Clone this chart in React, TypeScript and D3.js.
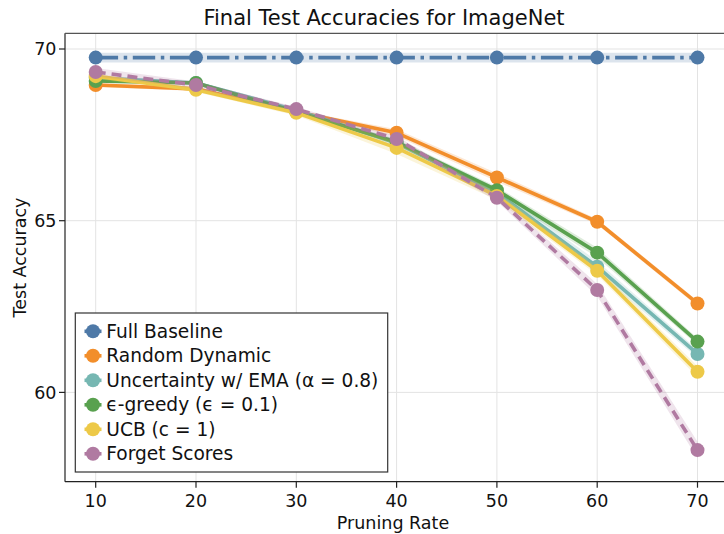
import React from "react";
import * as d3 from "d3";

const pruningRates = [10, 20, 30, 40, 50, 60, 70];
const xTicks = [10, 20, 30, 40, 50, 60, 70];
const yTicks = [60, 65, 70];

const seriesNames = [
  "Full Baseline",
  "Random Dynamic",
  "Uncertainty w/ EMA (α = 0.8)",
  "ϵ-greedy (ϵ = 0.1)",
  "UCB (c = 1)",
  "Forget Scores",
];
const seriesColors = ["#4e79a7", "#f28e2b", "#76b7b2", "#59a14f", "#edc948", "#b07aa1"];

const baselineAcc = [69.75, 69.75, 69.75, 69.75, 69.75, 69.75, 69.75];
const baselineStd = [0.14, 0.14, 0.14, 0.14, 0.14, 0.14, 0.14];
const randomAcc = [68.95, 68.84, 68.17, 67.56, 66.26, 64.97, 62.59];
const randomStd = [0.06, 0.06, 0.05, 0.1, 0.12, 0.08, 0.08];
const uncertaintyAcc = [69.16, 69.01, 68.22, 67.26, 65.81, 63.66, 61.12];
const uncertaintyStd = [0.06, 0.05, 0.06, 0.1, 0.14, 0.16, 0.12];
const greedyAcc = [69.07, 69.01, 68.17, 67.29, 65.89, 64.07, 61.48];
const greedyStd = [0.05, 0.05, 0.06, 0.08, 0.1, 0.14, 0.1];
const ucbAcc = [69.21, 68.81, 68.14, 67.12, 65.72, 63.54, 60.6];
const ucbStd = [0.08, 0.06, 0.08, 0.18, 0.12, 0.12, 0.16];
const forgetAcc = [69.33, 68.95, 68.25, 67.38, 65.67, 62.98, 58.32];
const forgetStd = [0.12, 0.1, 0.06, 0.08, 0.1, 0.18, 0.24];

const seriesValues = [baselineAcc, randomAcc, uncertaintyAcc, greedyAcc, ucbAcc, forgetAcc];
const seriesStds = [baselineStd, randomStd, uncertaintyStd, greedyStd, ucbStd, forgetStd];
const seriesDash = ["22.4,5.6,3.5,5.6", null, null, null, null, "10,6"];

const FONT = "'DejaVu Sans', sans-serif";

export default function App() {
  const W = 724;
  const H = 534;
  const left = 65;
  const top = 33.3;
  const bottom = 481.7;
  const right = 740;

  const x = d3.scaleLinear().domain([10, 70]).range([95.7, 697.5]);
  const y = d3.scaleLinear().domain([60, 70]).range([392.4, 49]);

  const line = d3
    .line<number>()
    .x((_, i) => x(pruningRates[i]))
    .y((d) => y(d));

  const area = (vals: number[], stds: number[]) =>
    d3
      .area<number>()
      .x((_, i) => x(pruningRates[i]))
      .y0((d, i) => y(d - stds[i]))
      .y1((d, i) => y(d + stds[i]))(vals) || "";

  const lw = 3.6;
  const r = 7;

  const legendX = 75.3;
  const legendY = 313;
  const legendW = 312.4;
  const legendH = 159;
  const rowStart = 331.3;
  const rowStep = 24.5;

  return (
    <svg
      width={W}
      height={H}
      style={{ position: "absolute", left: 0, top: 0, background: "#fff" }}
      fontFamily={FONT}
    >
      <defs>
        <clipPath id="plotClip">
          <rect x={left} y={top} width={right - left} height={bottom - top} />
        </clipPath>
      </defs>
      <rect x={0} y={0} width={W} height={H} fill="#fff" />

      {/* grid */}
      <g stroke="#e3e3e3" strokeWidth={1}>
        {xTicks.map((t) => (
          <line key={"gx" + t} x1={x(t)} x2={x(t)} y1={top} y2={bottom} />
        ))}
        {yTicks.map((t) => (
          <line key={"gy" + t} x1={left} x2={right} y1={y(t)} y2={y(t)} />
        ))}
      </g>

      {/* series */}
      <g clipPath="url(#plotClip)">
        {seriesValues.map((vals, si) => (
          <g key={"s" + si}>
            <path d={area(vals, seriesStds[si])} fill={seriesColors[si]} fillOpacity={0.2} stroke="none" />
            <path
              d={line(vals) || ""}
              fill="none"
              stroke={seriesColors[si]}
              strokeWidth={lw}
              strokeDasharray={seriesDash[si] || undefined}
              strokeLinejoin="round"
            />
            {vals.map((v, i) => (
              <circle key={i} cx={x(pruningRates[i])} cy={y(v)} r={r} fill={seriesColors[si]} />
            ))}
          </g>
        ))}
      </g>

      {/* spines */}
      <g stroke="#222" strokeWidth={1.2}>
        <line x1={left} x2={left} y1={top} y2={bottom} />
        <line x1={left} x2={W} y1={bottom} y2={bottom} />
        <line x1={left} x2={W} y1={top} y2={top} stroke="#555" />
      </g>

      {/* ticks */}
      <g stroke="#222" strokeWidth={1.2}>
        {yTicks.map((t) => (
          <line key={"ty" + t} x1={left - 6} x2={left} y1={y(t)} y2={y(t)} />
        ))}
        {xTicks.map((t) => (
          <line key={"tx" + t} x1={x(t)} x2={x(t)} y1={bottom} y2={bottom + 6} />
        ))}
      </g>
      <g fontSize={17.5} fill="#111">
        {yTicks.map((t) => (
          <text key={"ly" + t} x={56.5} y={y(t)} dy="0.36em" textAnchor="end">
            {t}
          </text>
        ))}
        {xTicks.map((t) => (
          <text key={"lx" + t} x={x(t)} y={507} textAnchor="middle">
            {t}
          </text>
        ))}
      </g>

      {/* labels */}
      <text x={384} y={25} fontSize={21} textAnchor="middle" fill="#111">
        Final Test Accuracies for ImageNet
      </text>
      <text x={393} y={528.5} fontSize={17.5} textAnchor="middle" fill="#111">
        Pruning Rate
      </text>
      <text
        transform={`translate(25.5, ${(top + bottom) / 2}) rotate(-90)`}
        fontSize={17.5}
        textAnchor="middle"
        fill="#111"
      >
        Test Accuracy
      </text>

      {/* legend */}
      <rect x={legendX} y={legendY} width={legendW} height={legendH} fill="#fff" stroke="#333" strokeWidth={1.2} />
      {seriesNames.map((name, i) => {
        const cy = rowStart + i * rowStep;
        return (
          <g key={"lg" + i}>
            <line x1={84.5} x2={101.5} y1={cy} y2={cy} stroke={seriesColors[i]} strokeWidth={lw} />
            <circle cx={93} cy={cy} r={r} fill={seriesColors[i]} />
            <text x={106.3} y={cy} dy="0.36em" fontSize={18.6} fill="#111">
              {name}
            </text>
          </g>
        );
      })}
    </svg>
  );
}
